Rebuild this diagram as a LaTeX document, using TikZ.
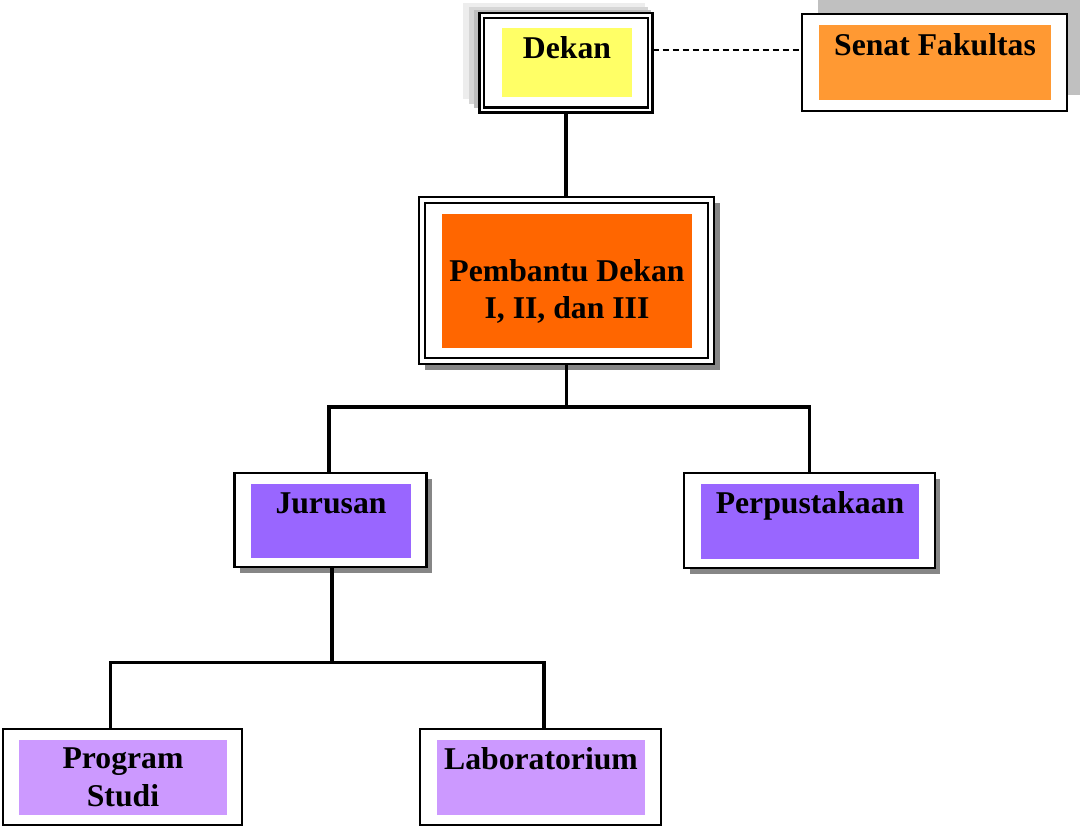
\documentclass[tikz,border=0pt]{standalone}
\usepackage{fontspec}
\setmainfont{Liberation Serif}
\usetikzlibrary{calc}
\definecolor{dekanyellow}{HTML}{FFFF66}
\definecolor{senatorange}{HTML}{FF9933}
\definecolor{pdorange}{HTML}{FF6600}
\definecolor{jurviolet}{HTML}{9966FF}
\definecolor{lablilac}{HTML}{CC99FF}
\definecolor{shadowgray}{HTML}{868686}
\definecolor{senatshade}{HTML}{C0C0C0}
\definecolor{haloA}{HTML}{EDEDED}
\definecolor{haloB}{HTML}{D6D6D6}
\definecolor{haloC}{HTML}{BEBEBE}

\begin{document}
\begin{tikzpicture}[x=1pt,y=-1pt,
  frame/.style={draw=black, line width=2.4pt, fill=white, inner sep=0pt, outer sep=0pt},
  innerframe/.style={draw=black, line width=2.4pt, inner sep=0pt, outer sep=0pt},
  panel/.style={draw=none, inner sep=0pt, outer sep=0pt},
  label/.style={inner sep=0pt, anchor=base, font=\fontsize{31.7}{38}\selectfont\bfseries},
  conn/.style={draw=black, line width=3.2pt, line join=miter},
  link/.style={draw=black, line width=1.3pt, dash pattern=on 6pt off 4pt}
]
\useasboundingbox (0,0) rectangle (1080,827);

% Dekan: layered halo behind a double frame
\fill[haloA] (463,3) rectangle (645,99);
\fill[haloB] (469,7) rectangle (648,104);
\fill[haloC] (474,10) rectangle (651,108);
\node[frame, minimum width=173pt, minimum height=99.5pt] (dekan) at (566,62.75) {};
\node[innerframe, minimum width=164pt, minimum height=89.5pt] (dekan-in) at (566,62.75) {};
\node[panel, fill=dekanyellow, minimum width=130pt, minimum height=69pt] (dekan-p) at (567,62.5) {};
\node[label] (dekan-t) at (567,58) {Dekan};

% Senat Fakultas
\fill[senatshade] (818,0) rectangle (1080,95);
\node[frame, line width=2pt, minimum width=265pt, minimum height=97pt] (senat) at (934.5,62.5) {};
\node[panel, fill=senatorange, minimum width=232pt, minimum height=75pt] (senat-p) at (935,62.5) {};
\node[label] (senat-t) at (935,55) {Senat Fakultas};

% Pembantu Dekan
\fill[shadowgray] (425,203) rectangle (720,370);
\node[frame, minimum width=295pt, minimum height=167pt] (pd) at (566.5,280.5) {};
\node[innerframe, minimum width=283pt, minimum height=155pt] (pd-in) at (566.5,280.5) {};
\node[panel, fill=pdorange, minimum width=250pt, minimum height=134pt] (pd-p) at (567,281) {};
\node[label] (pd-t1) at (567,281) {Pembantu Dekan};
\node[label] (pd-t2) at (567,318) {I, II, dan III};

% Jurusan
\fill[shadowgray] (240,479) rectangle (432,573);
\node[frame, minimum width=192pt, minimum height=94pt] (jur) at (330.5,520) {};
\node[panel, fill=jurviolet, minimum width=160pt, minimum height=74pt] (jur-p) at (331,521) {};
\node[label] (jur-t) at (331,513) {Jurusan};

% Perpustakaan
\fill[shadowgray] (690,479) rectangle (940,574);
\node[frame, minimum width=251pt, minimum height=95pt] (perp) at (809.5,520.5) {};
\node[panel, fill=jurviolet, minimum width=218pt, minimum height=75pt] (perp-p) at (810,521.5) {};
\node[label] (perp-t) at (810,513) {Perpustakaan};

% Program Studi
\node[frame, minimum width=239pt, minimum height=96pt] (ps) at (122.5,777) {};
\node[panel, fill=lablilac, minimum width=208pt, minimum height=75pt] (ps-p) at (123,777.5) {};
\node[label] (ps-t1) at (123,768) {Program};
\node[label] (ps-t2) at (123,806) {Studi};

% Laboratorium
\node[frame, minimum width=241pt, minimum height=96pt] (lab) at (540.5,777) {};
\node[panel, fill=lablilac, minimum width=208pt, minimum height=75pt] (lab-p) at (541,777.5) {};
\node[label] (lab-t) at (541,769) {Laboratorium};

% Connectors
\draw[link] ($(dekan.east)+(0,-12.75)$) coordinate (dl) -- (dl -| senat.west);
\draw[conn] (dekan.south) -- (dekan.south |- pd.north);
\draw[conn] (pd.south) -- ++(0,43) coordinate (pdbus);
\draw[conn] ($(jur.north)+(-1.5,0)$) |- (pdbus) -| (perp.north);
\draw[conn] ($(jur.south)+(1.5,0)$) -- ++(0,95.5) coordinate (jbus);
\draw[conn] ($(ps.north)+(-12,0)$) |- (jbus) -| ($(lab.north)+(3.5,0)$);
\end{tikzpicture}
\end{document}
